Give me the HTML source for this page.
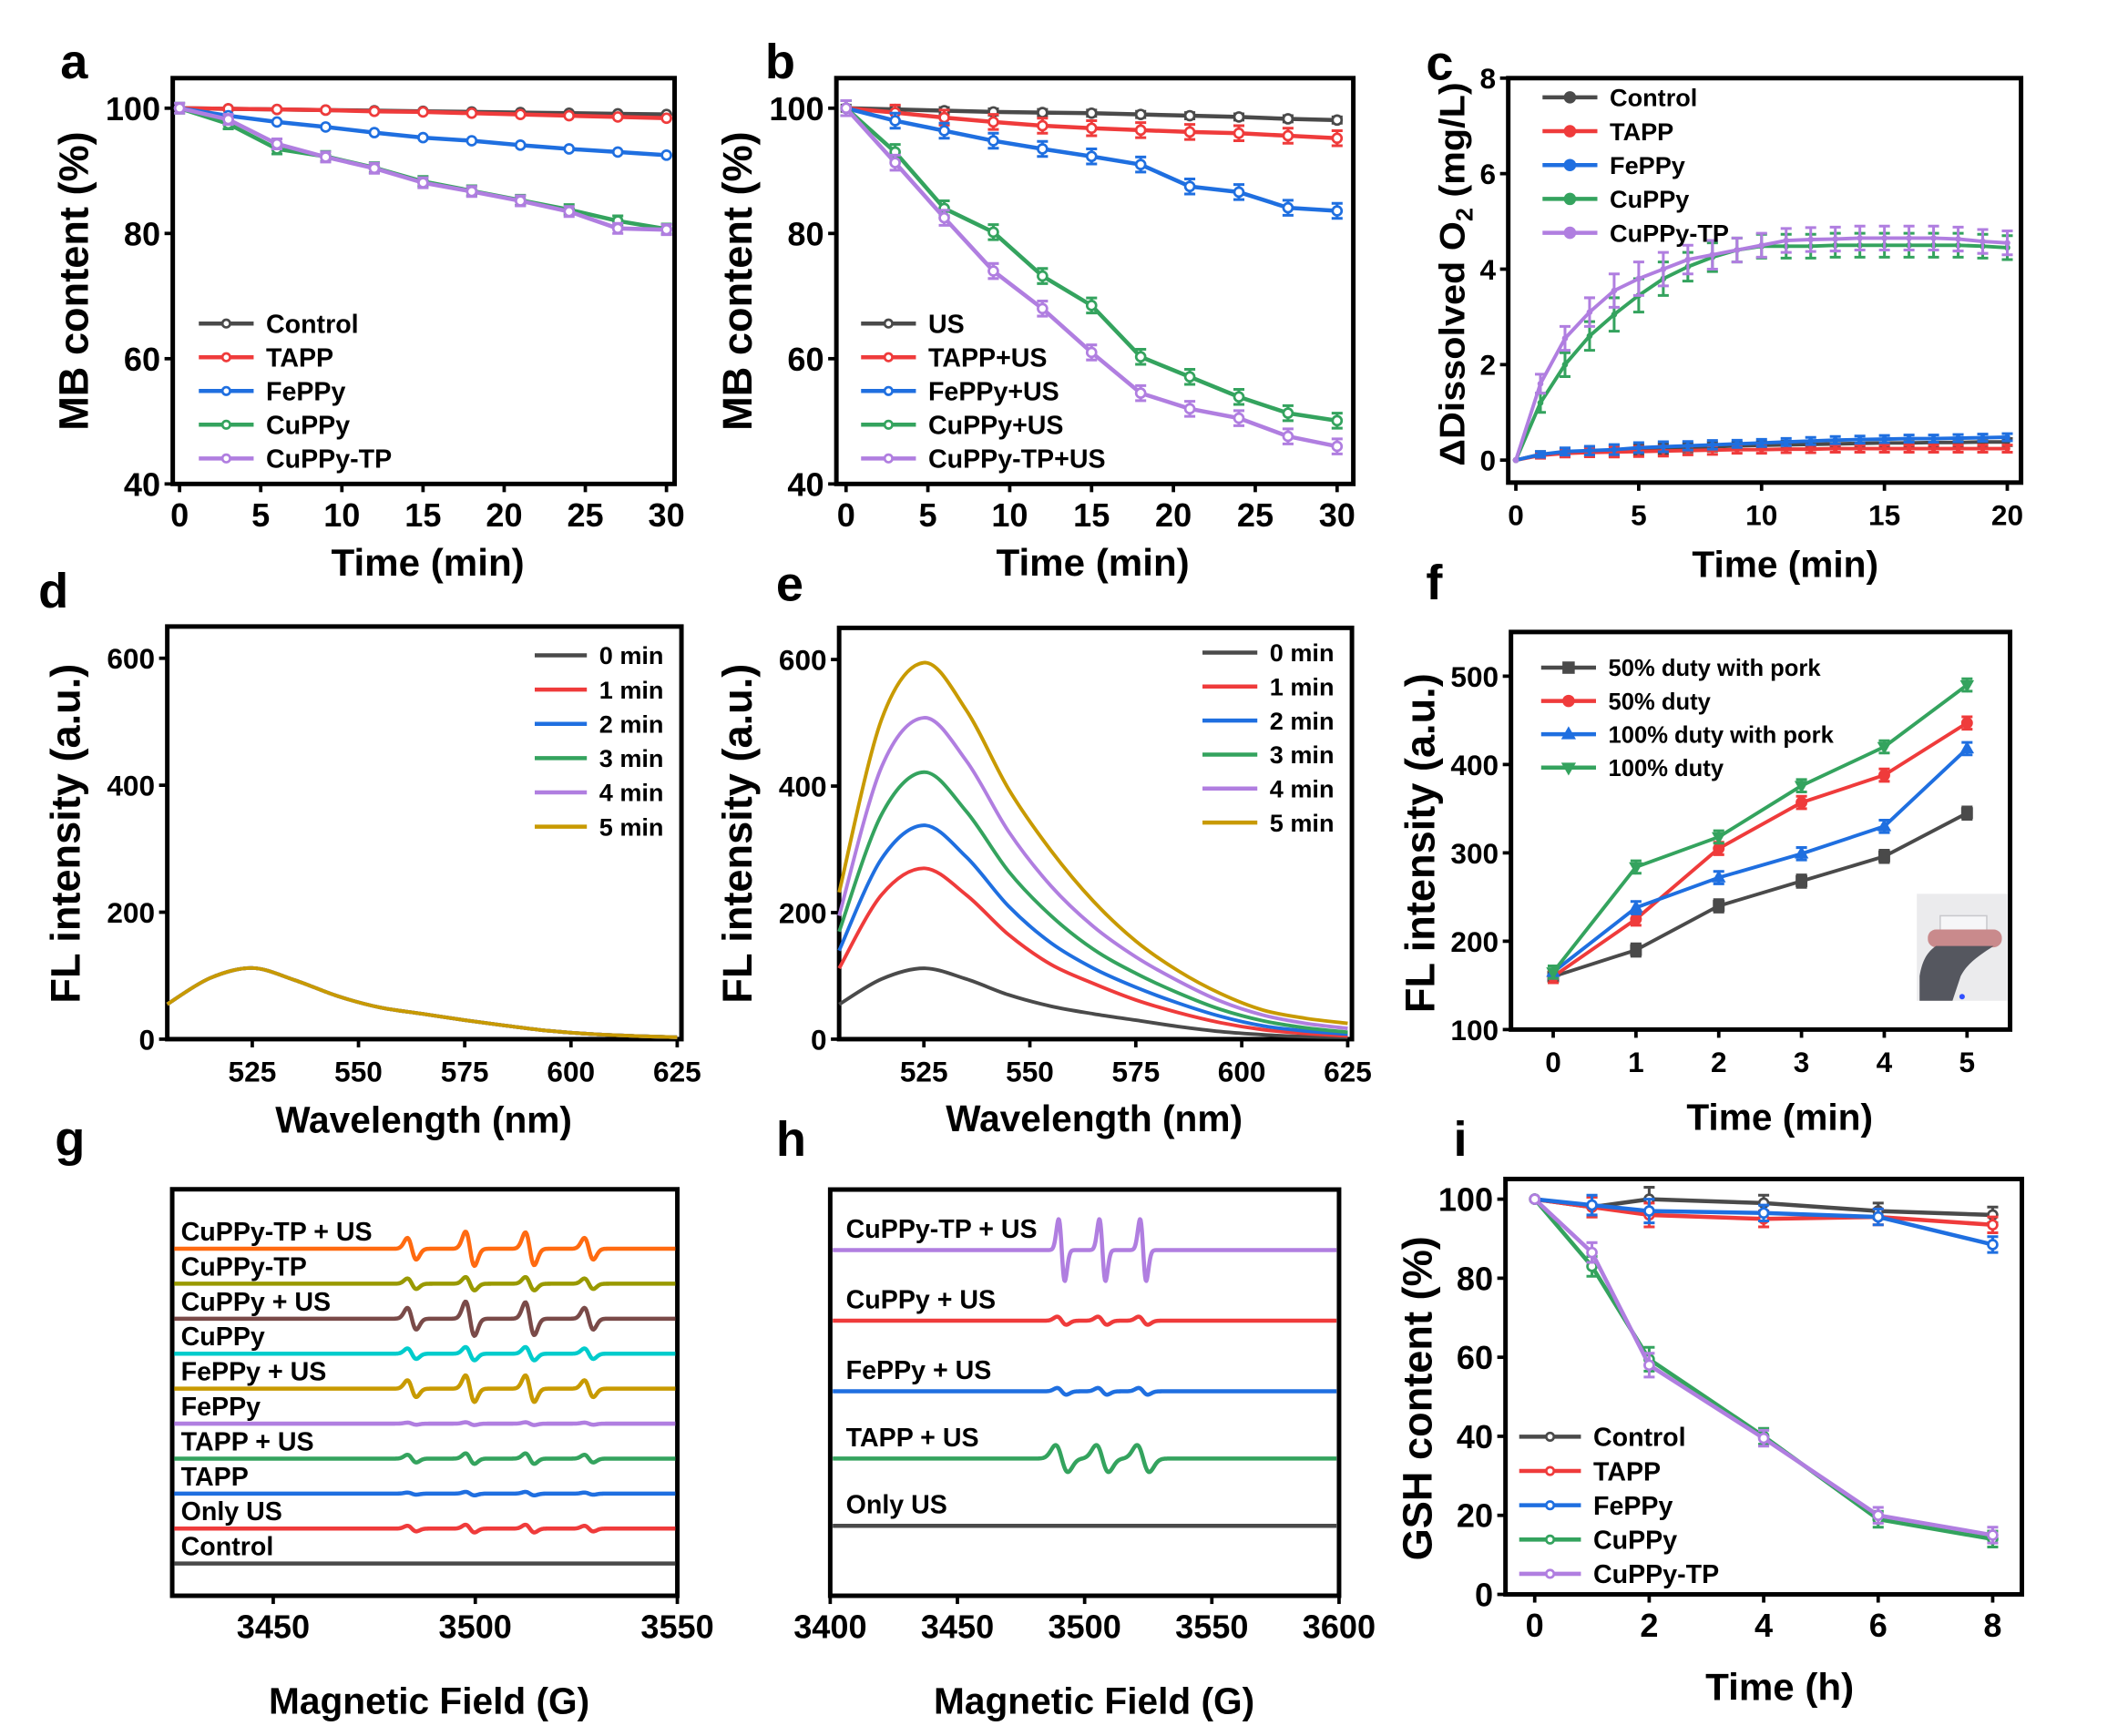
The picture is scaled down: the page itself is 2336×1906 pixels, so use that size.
<!DOCTYPE html>
<html><head><meta charset="utf-8"><style>
html,body{margin:0;padding:0;background:#fff;}
svg{display:block;}
text{font-family:"Liberation Sans",sans-serif;font-weight:bold;fill:#000;}
.nar{font-family:"Liberation Sans Narrow","Liberation Sans",sans-serif;}
</style></head><body>
<svg id="fig" xmlns="http://www.w3.org/2000/svg" width="2336" height="1906" viewBox="0 0 1552 1266.3" preserveAspectRatio="none"></svg>
<script>
// ---------- DATA ----------
const aTime=[0,3,6,9,12,15,18,21,24,27,30];
const aNames=["Control","TAPP","FePPy","CuPPy","CuPPy-TP"];
const aControl=[100,99.9,99.8,99.7,99.6,99.5,99.4,99.3,99.2,99.1,99.0];
const aTAPP=[100,99.9,99.8,99.7,99.5,99.4,99.2,99.0,98.8,98.6,98.4];
const aFePPy=[100,98.8,97.8,97.0,96.1,95.3,94.8,94.1,93.5,93.0,92.5];
const aCuPPy=[100,97.5,93.5,92.3,90.5,88.3,86.8,85.3,83.8,82.0,80.7];
const aCuPPyTP=[100,98.2,94.3,92.2,90.4,88.1,86.7,85.2,83.5,80.8,80.6];

const bNames=["US","TAPP+US","FePPy+US","CuPPy+US","CuPPy-TP+US"];
const bUS=[100,99.8,99.6,99.4,99.3,99.2,99.0,98.8,98.6,98.3,98.1];
const bTAPP=[100,99.3,98.5,97.8,97.2,96.8,96.5,96.2,96.0,95.6,95.2];
const bFePPy=[100,98.0,96.4,94.8,93.5,92.3,91.0,87.5,86.6,84.1,83.6];
const bCuPPy=[100,93.0,84.0,80.2,73.2,68.5,60.3,57.1,53.9,51.3,50.1];
const bCuPPyTP=[100,91.3,82.5,74.0,68.0,61.0,54.5,52.0,50.5,47.6,46.0];

const cTime=[0,1,2,3,4,5,6,7,8,9,10,11,12,13,14,15,16,17,18,19,20];
const cControl=[0,.12,.16,.18,.2,.22,.24,.26,.28,.3,.31,.32,.33,.34,.35,.36,.36,.37,.37,.38,.38];
const cTAPP=[0,.1,.14,.16,.17,.18,.19,.2,.21,.22,.22,.23,.23,.24,.24,.24,.24,.24,.24,.24,.24];
const cFePPy=[0,.12,.18,.2,.22,.26,.28,.3,.32,.34,.36,.38,.4,.42,.43,.44,.45,.45,.46,.47,.48];
const cCuPPy=[0,1.2,2.0,2.6,3.05,3.45,3.8,4.05,4.25,4.4,4.48,4.48,4.48,4.5,4.5,4.5,4.5,4.5,4.5,4.48,4.45];
const cCuPPyTP=[0,1.6,2.55,3.1,3.55,3.8,4.0,4.2,4.3,4.4,4.5,4.6,4.62,4.63,4.65,4.65,4.65,4.65,4.63,4.58,4.55];
const cErr=[0,.2,.25,.3,.35,.35,.35,.3,.3,.25,.25,.25,.25,.25,.25,.25,.25,.25,.25,.25,.25];

const wl=[505,515,525,535,545,555,565,575,585,595,605,615,625];
const timeLabels=["0 min","1 min","2 min","3 min","4 min","5 min"];
const d0=[55,96,112,93,68,50,40,30,21,13,8,5,3];
const d1=[55,96,112,93,68,50,40,30,21,13,8,5,3];
const d2=[55,96,112,93,68,50,40,30,21,13,8,5,3];
const d3=[55,96,112,93,68,50,40,30,21,13,8,5,3];
const d4=[55,96,112,93,68,50,40,30,21,13,8,5,3];
const d5=[55,96,112,93,68,50,40,30,21,13,8,5,3];
const e0=[55,95,112,95,70,52,40,30,20,12,7,4,3];
const e1=[112,228,270,228,165,118,88,62,42,26,15,9,5];
const e2=[140,285,338,288,210,152,112,82,57,36,21,13,8];
const e3=[170,355,422,360,265,195,142,104,73,47,29,18,11];
const e4=[195,430,508,440,328,242,178,130,92,60,38,25,17];
const e5=[232,505,595,520,395,298,218,155,108,72,46,33,25];

const fTime=[0,1,2,3,4,5];
const fNames=["50% duty with pork","50% duty","100% duty with pork","100% duty"];
const f50pork=[160,190,240,268,296,345];
const f50=[160,225,305,357,388,447];
const f100pork=[165,238,272,299,330,418];
const f100=[165,284,318,376,420,490];

const gNames=["Control","Only US","TAPP","TAPP + US","FePPy","FePPy + US","CuPPy","CuPPy + US","CuPPy-TP","CuPPy-TP + US"];
const gPeaks=[3484.3,3498.7,3513.5,3528.1];
const gAmps=[[0,0,0,0],[16,22,22,16],[6,10,10,6],[22,30,30,22],[6,8,8,6],[48,76,76,48],[30,38,38,30],[62,98,94,62],[30,38,38,30],[62,98,94,62]];

const hNames=["Only US","TAPP + US","FePPy + US","CuPPy + US","CuPPy-TP + US"];
const hPeaks=[3491,3507,3523];
const hAmps=[[0,0,0],[40,40,40],[10,10,10],[12,12,12],[92,92,92]];
const hWidth=[1.5,2.4,1.8,1.8,1.2];

const iTime=[0,1,2,4,6,8];
const iControl=[100,98,100,99,97,96];
const iTAPP=[100,98,96,95,95.5,93.5];
const iFePPy=[100,98.5,97,96.5,95.5,88.5];
const iCuPPy=[100,83,59.5,40,19,14];
const iCuPPyTP=[100,86.5,58,39.5,20,15];
const iErr=[0,2.5,3,2,2,2];

// ---------- HELPERS ----------
const NS='http://www.w3.org/2000/svg';
const svg=document.getElementById('fig');
function mk(tag,attrs,parent){const e=document.createElementNS(NS,tag);for(const k in attrs)e.setAttribute(k,attrs[k]);(parent||svg).appendChild(e);return e;}
function scales(box,xd,yd){return{sx:v=>box.x0+(v-xd[0])/(xd[1]-xd[0])*(box.x1-box.x0),sy:v=>box.y1-(v-yd[0])/(yd[1]-yd[0])*(box.y1-box.y0)};}
function frame(name,box,s,xt,yt,fs,narrow){
  const g=mk('g',{});
  
  
  const r=mk('rect',{x:box.x0,y:box.y0,width:box.x1-box.x0,height:box.y1-box.y0,fill:'none',stroke:'#000','stroke-width':3.3},g);
  
  
  xt.forEach(v=>{const x=s.sx(v);
    mk('line',{x1:x,x2:x,y1:box.y1,y2:box.y1+6,stroke:'#000','stroke-width':2.5},g);
    const t=mk('text',{x:x,y:box.y1+31,'text-anchor':'middle','font-size':fs,class:narrow?'nar':''},g);t.textContent=v;
    
    });
  yt.forEach(v=>{const y=s.sy(v);
    mk('line',{x1:box.x0-6,x2:box.x0,y1:y,y2:y,stroke:'#000','stroke-width':2.5},g);
    const t=mk('text',{x:box.x0-9,y:y+fs*0.36,'text-anchor':'end','font-size':fs,class:narrow?'nar':''},g);t.textContent=v;
    
    });
}
function txt(str,x,y,fs,name,opts){const t=mk('text',Object.assign({x:x,y:y,'font-size':fs},opts||{}));t.textContent=str;
  
  return t;}
function marker(g,type,x,y,color,r){
  if(type==='sq')return mk('rect',{x:x-r,y:y-r,width:2*r,height:2*r,fill:color},g);
  if(type==='up')return mk('polygon',{points:`${x},${y-r*1.3} ${x-r*1.2},${y+r*0.8} ${x+r*1.2},${y+r*0.8}`,fill:color},g);
  if(type==='dn')return mk('polygon',{points:`${x},${y+r*1.3} ${x-r*1.2},${y-r*0.8} ${x+r*1.2},${y-r*0.8}`,fill:color},g);
  if(type==='fc')return mk('circle',{cx:x,cy:y,r:r,fill:color},g);
  return mk('circle',{cx:x,cy:y,r:r,fill:'#fff',stroke:color,'stroke-width':1.8},g);
}
function series(name,xs,ys,s,color,mtype,err,width,mr){
  const g=mk('g',{});
  
  
  mk('polyline',{points:xs.map((x,i)=>s.sx(x)+','+s.sy(ys[i])).join(' '),fill:'none',stroke:color,'stroke-width':width||3,'stroke-linejoin':'round'},g);
  xs.forEach((x,i)=>{const px=s.sx(x),py=s.sy(ys[i]);
    if(err&&err[i]){const e1=s.sy(ys[i]+err[i]),e2=s.sy(ys[i]-err[i]);
      mk('path',{d:`M${px},${e1}V${e2}M${px-4},${e1}H${px+4}M${px-4},${e2}H${px+4}`,stroke:color,'stroke-width':2,fill:'none'},g);}
    if(mtype){const m=marker(g,mtype,px,py,color,mr||3.3);
      
      }
  });
}
function smooth(name,xs,ys,s,color,width){
  const p=xs.map((x,i)=>[s.sx(x),s.sy(ys[i])]);
  let d='M'+p[0][0]+','+p[0][1];
  for(let i=0;i<p.length-1;i++){const p0=p[Math.max(0,i-1)],p1=p[i],p2=p[i+1],p3=p[Math.min(p.length-1,i+2)];
    d+=`C${p1[0]+(p2[0]-p0[0])/6},${p1[1]+(p2[1]-p0[1])/6} ${p2[0]-(p3[0]-p1[0])/6},${p2[1]-(p3[1]-p1[1])/6} ${p2[0]},${p2[1]}`;}
  const e=mk('path',{d:d,fill:'none',stroke:color,'stroke-width':width||2.6});
  
  
}
function legend(name,x,y0,dy,names,colors,mtypes,fs,lineLen,narrow){
  names.forEach((n,i)=>{const y=y0+i*dy;const g=mk('g',{});
    
    
    mk('line',{x1:x,x2:x+lineLen,y1:y,y2:y,stroke:colors[i],'stroke-width':3},g);
    if(mtypes)marker(g,mtypes[i],x+lineLen/2,y,colors[i],mtypes[i]==='oc'?2.8:4.5);
    const t=mk('text',{x:x+lineLen+9,y:y+fs*0.36,'font-size':fs,class:narrow?'nar':''},g);t.textContent=n;});
}
function ylab(str,x,cy,fs,name){const t=txt(str,x,cy,fs,name,{'text-anchor':'middle',transform:`rotate(-90 ${x} ${cy})`});return t;}
const GR='#4a4a4a',RD='#ef3b3b',BL='#1f6fe0',GN='#34a35e',PU='#b07ee0',GD='#c89a00';
const col5=[GR,RD,BL,GN,PU];

// ---------- PANEL A ----------
{const box={x0:126,x1:492,y0:57,y1:353};const s=scales(box,[-0.42,30.5],[40,104.8]);
frame('panel-a',box,s,[0,5,10,15,20,25,30],[40,60,80,100],24,true);
[aControl,aTAPP,aFePPy,aCuPPy,aCuPPyTP].forEach((d,i)=>series('a-'+aNames[i],aTime,d,s,col5[i],'oc',i>=3?d.map(()=>0.8):null));
legend('a-legend',145,236,24.6,aNames,col5,['oc','oc','oc','oc','oc'],19,40,true);
txt('Time (min)',312,420,28,'a-x-title',{'text-anchor':'middle'});
ylab('MB content (%)',64,205,30,'a-y-title');txt('a',44,57,36,'panel-a-label');}

// ---------- PANEL B ----------
{const box={x0:610,x1:987,y0:57,y1:353};const s=scales(box,[-0.59,30.99],[40,104.8]);
frame('panel-b',box,s,[0,5,10,15,20,25,30],[40,60,80,100],24,true);
[bUS,bTAPP,bFePPy,bCuPPy,bCuPPyTP].forEach((d,i)=>series('b-'+bNames[i],aTime,d,s,col5[i],'oc',d.map(()=>i===0?0.5:1.2)));
legend('b-legend',628,236,24.6,bNames,col5,['oc','oc','oc','oc','oc'],19,40,true);
txt('Time (min)',797,420,28,'b-x-title',{'text-anchor':'middle'});
ylab('MB content (%)',548,205,30,'b-y-title');txt('b',558,57,36,'panel-b-label');}

// ---------- PANEL C ----------
{const box={x0:1100,x1:1474,y0:57,y1:352};const s=scales(box,[-0.31,20.56],[-0.47,8]);
frame('panel-c',box,s,[0,5,10,15,20],[0,2,4,6,8],21,false);
const cn=["Control","TAPP","FePPy","CuPPy","CuPPy-TP"];
[cControl,cTAPP,cFePPy,cCuPPy,cCuPPyTP].forEach((d,i)=>series('c-'+cn[i],cTime,d,s,col5[i],'fc',i>=3?cErr:cErr.map(v=>v*0.3),2.6,2.2));
legend('c-legend',1125,71,24.7,cn,col5,['fc','fc','fc','fc','fc'],18,40,false);
txt('Time (min)',1302,421,27,'c-x-title',{'text-anchor':'middle'});
const t=ylab('',1068,200,26,'c-y-title');t.innerHTML='ΔDissolved O<tspan font-size="17" dy="6">2</tspan><tspan dy="-6"> (mg/L)</tspan>';
t.setAttribute('textLength','280');
t.setAttribute('lengthAdjust','spacingAndGlyphs');
txt('c',1040,58,36,'panel-c-label');}

// ---------- PANEL D ----------
const tcol=[GR,RD,BL,GN,PU,GD];
{const box={x0:122,x1:497,y0:457,y1:758};const s=scales(box,[505,626],[0,650]);
frame('panel-d',box,s,[525,550,575,600,625],[0,200,400,600],21,false);
[d0,d1,d2,d3,d4,d5].forEach((d,i)=>smooth('d-'+timeLabels[i].replace(' ','-'),wl,d,s,tcol[i],2.6));
legend('d-legend',390,478,25,timeLabels,tcol,null,18,38,false);
txt('Wavelength (nm)',309,826,27,'d-x-title',{'text-anchor':'middle'});
ylab('FL intensity (a.u.)',58,608,30,'d-y-title');txt('d',28,443,36,'panel-d-label');}

// ---------- PANEL E ----------
{const box={x0:612,x1:986,y0:458,y1:758};const s=scales(box,[505,626],[0,650]);
frame('panel-e',box,s,[525,550,575,600,625],[0,200,400,600],21,false);
[e0,e1,e2,e3,e4,e5].forEach((d,i)=>smooth('e-'+timeLabels[i].replace(' ','-'),wl,d,s,tcol[i],2.6));
legend('e-legend',877,476,24.8,timeLabels,tcol,null,18,40,false);
txt('Wavelength (nm)',798,825,27,'e-x-title',{'text-anchor':'middle'});
ylab('FL intensity (a.u.)',548,608,30,'e-y-title');txt('e',566,438,36,'panel-e-label');}

// ---------- PANEL F ----------
{const box={x0:1102,x1:1466,y0:461,y1:751};const s=scales(box,[-0.51,5.52],[100,550]);
frame('panel-f',box,s,[0,1,2,3,4,5],[100,200,300,400,500],21,false);
const fc=[GR,RD,BL,GN],fm=['sq','fc','up','dn'];
[f50pork,f50,f100pork,f100].forEach((d,i)=>series('f-'+fNames[i],fTime,d,s,fc[i],fm[i],d.map(()=>7),2.6,4.3));
legend('f-legend',1124,487,24.3,fNames,fc,fm,17,40,false);
const g=mk('g',{});
mk('rect',{x:1398,y:652,width:66,height:78,fill:'#ebebed'},g);
mk('rect',{x:1415,y:668,width:34,height:12,fill:'#f6f6f8',stroke:'#c8c8cc','stroke-width':1},g);
mk('rect',{x:1406,y:678,width:54,height:13,rx:6,fill:'#c98a8c'},g);
mk('path',{d:'M1412,690 H1454 C1445,696 1435,702 1430,712 L1424,730 H1400 V712 C1402,700 1406,694 1412,690 Z',fill:'#55575f'},g);
mk('circle',{cx:1431,cy:727,r:2,fill:'#3050ff'},g);
txt('Time (min)',1298,824,27,'f-x-title',{'text-anchor':'middle'});
ylab('FL intensity (a.u.)',1046,615,30,'f-y-title');txt('f',1040,437,36,'panel-f-label');}

// ---------- EPR helper ----------
function epr(name,s,base,peaks,amps,w,color,x0,x1){
  let d='';for(let x=x0;x<=x1;x+=0.25){let v=0;peaks.forEach((c,k)=>{const u=(x-c)/w;v+=amps[k]/2*(-u)*Math.exp(0.5-u*u/2);});
    d+=(d?'L':'M')+s.sx(x).toFixed(2)+','+s.sy(base+v).toFixed(2);}
  const e=mk('path',{d:d,fill:'none',stroke:color,'stroke-width':3,'stroke-linejoin':'round'});
  
  
}
// ---------- PANEL G ----------
{const box={x0:125.6,x1:494,y0:867.5,y1:1164};const s=scales(box,[3425,3550],[-92,1070]);
frame('panel-g',box,s,[3450,3500,3550],[],24,true);
const lc=[GR,RD,BL,GN,PU,GD,'#00cccc','#7a4a48','#999900','#ff6a10'];
const tc=['#000',RD,BL,GN,PU,GD,'#00cccc','#7a4a48','#999900','#ff6a10'];
gNames.forEach((n,i)=>{epr('g-'+n,s,i*100,gPeaks,gAmps[i],1.1,lc[i],3425.5,3549.5);
  txt(n,132,s.sy(i*100)-6,19,'g-label-'+n,{fill:tc[i],class:'nar'});});
txt('Magnetic Field (G)',313,1250,27,'g-x-title',{'text-anchor':'middle'});txt('g',40,843,36,'panel-g-label');}

// ---------- PANEL H ----------
{const box={x0:605.5,x1:976.6,y0:867.7,y1:1164};const s=scales(box,[3400,3600],[-104,500]);
frame('panel-h',box,s,[3400,3450,3500,3550,3600],[],24,true);
const hc=[GR,GN,BL,RD,PU],htc=['#000',GN,BL,RD,PU];
const hb=[0,100,200,305,410];
hNames.forEach((n,i)=>{epr('h-'+n,s,hb[i],hPeaks,hAmps[i],hWidth[i],hc[i],3401,3599);
  txt(n,617,s.sy(hb[i])-9,19,'h-label-'+n,{fill:htc[i],class:'nar'});});
txt('Magnetic Field (G)',798,1250,27,'h-x-title',{'text-anchor':'middle'});txt('h',566,843,36,'panel-h-label');}

// ---------- PANEL I ----------
{const box={x0:1098,x1:1474.6,y0:860,y1:1163};const s=scales(box,[-0.51,8.51],[0,105.1]);
frame('panel-i',box,s,[0,2,4,6,8],[0,20,40,60,80,100],24,true);
const n5=["Control","TAPP","FePPy","CuPPy","CuPPy-TP"];
[iControl,iTAPP,iFePPy,iCuPPy,iCuPPyTP].forEach((d,i)=>series('i-'+n5[i],iTime,d,s,col5[i],'oc',iErr));
legend('i-legend',1108,1048,25,n5,col5,['oc','oc','oc','oc','oc'],19,45,true);
txt('Time (h)',1298,1240,28,'i-x-title',{'text-anchor':'middle'});
ylab('GSH content (%)',1044,1020,30,'i-y-title');txt('i',1060,843,36,'panel-i-label');}
</script>
</body></html>
